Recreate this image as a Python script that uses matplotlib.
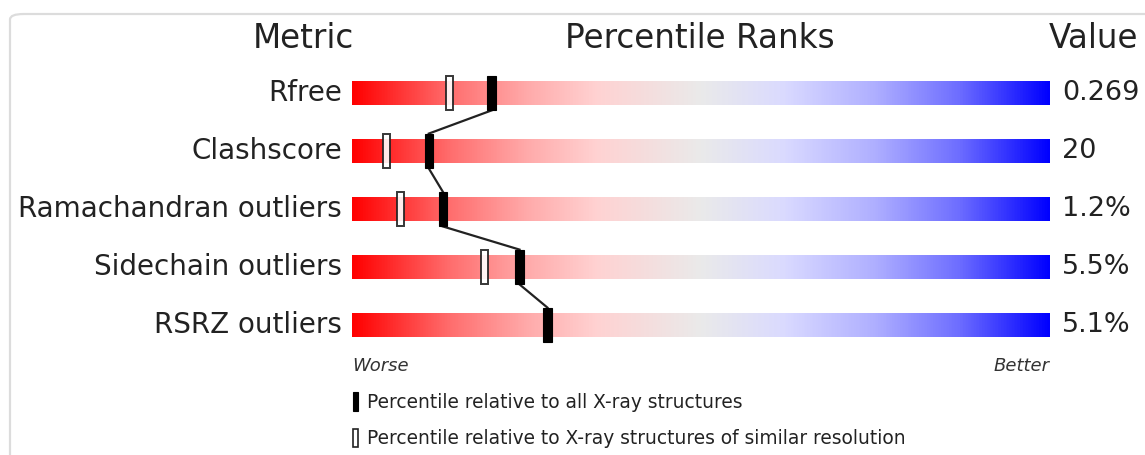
import numpy as np
import matplotlib.pyplot as plt
from matplotlib.colors import LinearSegmentedColormap
from matplotlib.patches import Rectangle, FancyBboxPatch

metrics = ['Rfree', 'Clashscore', 'Ramachandran outliers', 'Sidechain outliers', 'RSRZ outliers']
values = ['0.269', '20', '1.2%', '5.5%', '5.1%']
pct_all = [20, 11, 13, 24, 28]
pct_similar = [14, 5, 7, 19, None]

W, H = 1145, 455
fig = plt.figure(figsize=(W / 100, H / 100), dpi=100)


def px(x, y):
    # pixel position (from top-left) to figure fraction
    return x / W, 1 - y / H


# rounded frame around the panel
frame = FancyBboxPatch(px(10, 470), (1160 - 10) / W, (470 - 14) / H,
                       boxstyle='round,pad=0,rounding_size=0.012',
                       transform=fig.transFigure, fc='none', ec='#dcdcdc', lw=1.6)
fig.patches.append(frame)

x0, x1 = px(352, 0)[0], px(1050, 0)[0]
ytop, ybot = px(0, 64)[1], px(0, 354)[1]
ax = fig.add_axes([x0, ybot, x1 - x0, ytop - ybot])
ax.set_xlim(0, 100)
ax.set_ylim(len(metrics) - 0.5, -0.5)
ax.axis('off')

stops = [(0.0, '#ff0000'), (0.14, '#ff6e6e'), (0.25, '#ffaaaa'), (0.35, '#ffd2d2'),
         (0.5, '#eaeaea'), (0.62, '#dadaff'), (0.75, '#afafff'), (0.87, '#6e6eff'),
         (1.0, '#0000ff')]
cmap = LinearSegmentedColormap.from_list('rwb', stops)
grad = np.linspace(0, 1, 512).reshape(1, -1)
bar_h = 0.4
mk_h = 0.6
for i in range(len(metrics)):
    ax.imshow(grad, cmap=cmap, aspect='auto', interpolation='bilinear',
              extent=(0, 100, i + bar_h / 2, i - bar_h / 2), zorder=1)

# line linking the filled markers
ys_top = [i - mk_h / 2 for i in range(len(metrics))]
ys_bot = [i + mk_h / 2 for i in range(len(metrics))]
for i in range(len(metrics) - 1):
    ax.plot([pct_all[i], pct_all[i + 1]], [ys_bot[i], ys_top[i + 1]],
            color='#222222', lw=1.6, zorder=2)

for i, (pa, ps) in enumerate(zip(pct_all, pct_similar)):
    if ps is not None:
        ax.add_patch(Rectangle((ps - 0.5, i - mk_h / 2), 1.0, mk_h,
                               fc='white', ec='#222222', lw=1.4, alpha=0.9, zorder=3))
    ax.add_patch(Rectangle((pa - 0.6, i - mk_h / 2), 1.2, mk_h,
                           fc='black', ec='black', lw=0.8, zorder=4))

txt = '#222222'
for i, (m, v) in enumerate(zip(metrics, values)):
    ax.text(-1.4, i, m, ha='right', va='center', fontsize=20, color=txt)
    ax.text(101.7, i, v, ha='left', va='center', fontsize=19.5, color=txt)

fig.text(*px(303, 38), 'Metric', ha='center', va='center', fontsize=23.5, color=txt)
fig.text(*px(700, 38), 'Percentile Ranks', ha='center', va='center', fontsize=23.5, color=txt)
fig.text(*px(1049, 38), 'Value', ha='left', va='center', fontsize=23.5, color=txt)

fig.text(*px(352, 366), 'Worse', ha='left', va='center', fontsize=13,
         style='italic', color='#333333')
fig.text(*px(1050, 366), 'Better', ha='right', va='center', fontsize=13,
         style='italic', color='#333333')

# legend
fig.patches.append(Rectangle(px(353, 411), 5 / W, 19 / H, transform=fig.transFigure,
                             fc='black', ec='black', lw=0.8))
fig.patches.append(Rectangle(px(353, 447), 5 / W, 18 / H, transform=fig.transFigure,
                             fc='white', ec='#222222', lw=1.2))
fig.text(*px(367, 402), 'Percentile relative to all X-ray structures',
         ha='left', va='center', fontsize=13.4, color=txt)
fig.text(*px(367, 438), 'Percentile relative to X-ray structures of similar resolution',
         ha='left', va='center', fontsize=13.4, color=txt)

fig.savefig('out.png', dpi=100)
